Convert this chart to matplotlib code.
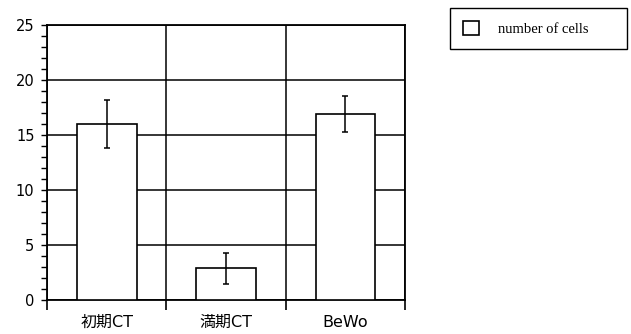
import matplotlib
matplotlib.use("Agg")
import matplotlib.pyplot as plt
from matplotlib.patches import Patch
from matplotlib.ticker import MultipleLocator, FixedLocator

plt.rcParams['font.family'] = ['DejaVu Sans', 'Noto Sans CJK JP']

categories = ["初期CT", "満期CT", "BeWo"]
cell_counts = [16.0, 2.9, 16.9]
cell_errors = [2.15, 1.4, 1.65]
legend_label = "number of cells"

fig = plt.figure(figsize=(6.31, 3.34), dpi=100)
ax = fig.add_axes([47 / 631, 34 / 334, 358 / 631, 275 / 334])

xs = list(range(len(categories)))
ax.bar(xs, cell_counts, width=0.5, color="white", edgecolor="black",
       linewidth=1.2, zorder=3)
ax.errorbar(xs, cell_counts, yerr=cell_errors, fmt="none", ecolor="black",
            elinewidth=1.1, capsize=2.5, capthick=1.1, zorder=4)

ax.set_xlim(-0.5, len(categories) - 0.5)
ax.set_ylim(0, 25)

# category boundaries as major ticks (grid), names on minor ticks
ax.xaxis.set_major_locator(FixedLocator([i - 0.5 for i in range(len(categories) + 1)]))
ax.xaxis.set_minor_locator(FixedLocator(xs))
ax.set_xticklabels([], minor=False)
ax.set_xticklabels(categories, minor=True, fontsize=11.5)
ax.tick_params(axis="x", which="major", direction="out", length=7, width=1.2)
ax.tick_params(axis="x", which="minor", length=0, pad=11)

ax.yaxis.set_major_locator(MultipleLocator(5))
ax.yaxis.set_minor_locator(MultipleLocator(1))
ax.tick_params(axis="y", which="both", direction="out", length=4, width=1)
ax.tick_params(axis="y", which="major", labelsize=10.5, pad=5)

ax.grid(True, which="major", color="black", linewidth=1.1, zorder=0)
ax.set_axisbelow(True)
for s in ax.spines.values():
    s.set_linewidth(1.3)

handle = Patch(facecolor="white", edgecolor="black", linewidth=1.2)
fig.legend([handle], [legend_label], loc="upper left",
           bbox_to_anchor=(450 / 631, 1 - 50 / 334, 177 / 631, 42 / 334),
           mode="expand", borderaxespad=0, fancybox=False, edgecolor="black",
           framealpha=1, prop={"family": "Liberation Serif", "size": 10.5},
           borderpad=0.9, handlelength=1.1, handleheight=1.1, handletextpad=1.3)

fig.savefig("out.png", dpi=100)
